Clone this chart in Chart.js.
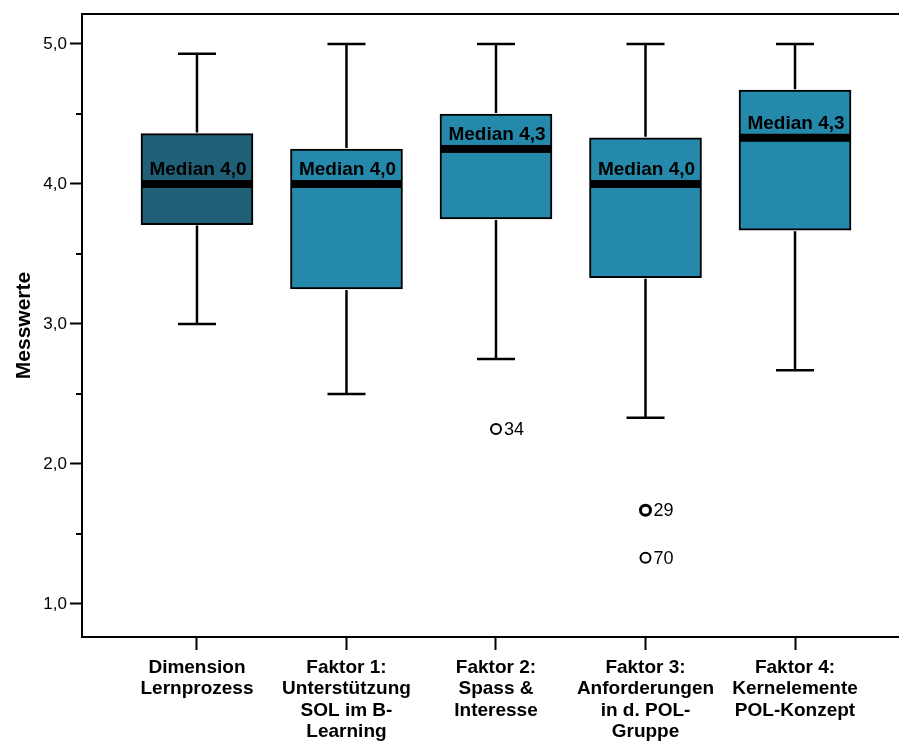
<!DOCTYPE html>
<html>
<head>
<meta charset="utf-8">
<script src="https://cdn.jsdelivr.net/npm/chart.js@4"></script>
<style>
  html, body { margin: 0; padding: 0; background: #fff; }
  #wrap { width: 899px; height: 746px; }
</style>
</head>
<body>
<div id="wrap"><canvas id="boxChart" width="899" height="746"></canvas></div>
<script>
// data
const categories = [
  ['Dimension', 'Lernprozess'],
  ['Faktor 1:', 'Unterstützung', 'SOL im B-', 'Learning'],
  ['Faktor 2:', 'Spass &', 'Interesse'],
  ['Faktor 3:', 'Anforderungen', 'in d. POL-', 'Gruppe'],
  ['Faktor 4:', 'Kernelemente', 'POL-Konzept']
];
const whiskerLow  = [3.0, 2.5, 2.75, 2.33, 2.67];
const q1          = [3.71, 3.25, 3.75, 3.33, 3.67];
const median      = [4.0, 4.0, 4.25, 4.0, 4.33];
const q3          = [4.36, 4.25, 4.5, 4.33, 4.67];
const whiskerHigh = [4.93, 5.0, 5.0, 5.0, 5.0];
const medianLabels = ['Median 4,0', 'Median 4,0', 'Median 4,3', 'Median 4,0', 'Median 4,3'];

const outlierCat = [3, 4, 4];
const outlierVal = [2.25, 1.67, 1.33];
const outlierIds = ['34', '29', '70'];

const xTicks = [1, 2, 3, 4, 5];
const yTicks = [1, 2, 3, 4, 5];
const yMinorTicks = [1.5, 2.5, 3.5, 4.5];

const FONT = "'Liberation Sans', Arial, sans-serif";
const boxColors = ['#1f6076', '#2489ab', '#2489ab', '#2489ab', '#2489ab'];

const boxData = categories.map((c, i) => ({ x: i + 1, y: [q1[i], q3[i]] }));
const outlierData = outlierCat.map((c, i) => ({ x: c, y: outlierVal[i] }));

// whiskers, medians, labels, frame
const boxExtras = {
  id: 'boxExtras',
  afterDatasetsDraw(chart) {
    const ctx = chart.ctx;
    const xs = chart.scales.x, ys = chart.scales.y;
    const area = chart.chartArea;
    ctx.save();
    ctx.strokeStyle = '#000';
    ctx.lineCap = 'butt';

    // top frame line
    ctx.lineWidth = 2;
    ctx.beginPath();
    ctx.moveTo(area.left - 1, area.top);
    ctx.lineTo(chart.width, area.top);
    ctx.stroke();

    // minor y ticks
    yMinorTicks.forEach(v => {
      const py = Math.round(ys.getPixelForValue(v));
      ctx.beginPath();
      ctx.moveTo(area.left - 6, py);
      ctx.lineTo(area.left, py);
      ctx.stroke();
    });

    const half = 56;
    categories.forEach((c, i) => {
      const px = xs.getPixelForValue(i + 1);
      const pLo = ys.getPixelForValue(whiskerLow[i]);
      const pHi = ys.getPixelForValue(whiskerHigh[i]);
      const pQ1 = ys.getPixelForValue(q1[i]);
      const pQ3 = ys.getPixelForValue(q3[i]);
      const pMed = ys.getPixelForValue(median[i]);

      ctx.lineWidth = 2.5;
      ctx.beginPath();
      ctx.moveTo(px, pQ3 - 1); ctx.lineTo(px, pHi);
      ctx.moveTo(px, pQ1 + 1); ctx.lineTo(px, pLo);
      ctx.moveTo(px - 19, pHi); ctx.lineTo(px + 19, pHi);
      ctx.moveTo(px - 19, pLo); ctx.lineTo(px + 19, pLo);
      ctx.stroke();

      ctx.fillStyle = '#000';
      ctx.font = 'bold 19px ' + FONT;
      ctx.textAlign = 'center';
      ctx.textBaseline = 'alphabetic';
      ctx.fillText(medianLabels[i], px + 1, pMed - 9);

      ctx.fillRect(px - half + 1, pMed - 4, 2 * half - 2, 8);
    });

    // outlier ids
    ctx.font = '18px ' + FONT;
    ctx.textAlign = 'left';
    ctx.textBaseline = 'middle';
    outlierIds.forEach((id, i) => {
      const px = xs.getPixelForValue(outlierCat[i]);
      const py = ys.getPixelForValue(outlierVal[i]);
      ctx.fillText(id, px + 8, py + 1);
    });

    // bottom axis line carried on to the canvas edge
    const by = xs.top;
    ctx.lineWidth = 2;
    ctx.beginPath();
    ctx.moveTo(area.right - 2, by);
    ctx.lineTo(chart.width, by);
    ctx.stroke();
    ctx.restore();
  }
};

const ctx = document.getElementById('boxChart').getContext('2d');
new Chart(ctx, {
  type: 'bar',
  data: {
    datasets: [
      {
        type: 'scatter',
        data: outlierData,
        pointStyle: 'circle',
        pointRadius: 5,
        pointBorderWidth: [2, 3, 2],
        pointBackgroundColor: '#fff',
        pointBorderColor: '#000',
        showLine: false,
        order: 0
      },
      {
        type: 'bar',
        data: boxData,
        backgroundColor: boxColors,
        borderColor: '#000',
        borderWidth: 2,
        borderSkipped: false,
        barThickness: 112,
        order: 1
      }
    ]
  },
  options: {
    responsive: false,
    animation: false,
    layout: { padding: { top: 14, left: 0, right: 0, bottom: 0 } },
    plugins: { legend: { display: false }, tooltip: { enabled: false } },
    scales: {
      x: {
        type: 'linear',
        offset: false,
        min: 0.231,
        max: 5.642,
        afterBuildTicks: s => { s.ticks = xTicks.map(v => ({ value: v })); },
        afterFit: s => { s.height = 109; s.paddingLeft = 0; s.paddingRight = 0; },
        ticks: {
          color: '#000',
          font: { family: FONT, size: 19, weight: 'bold', lineHeight: 1.13 },
          padding: 7,
          maxRotation: 0,
          minRotation: 0,
          autoSkip: false,
          callback: (v) => categories[v - 1] || ''
        },
        grid: { offset: false, drawOnChartArea: false, tickLength: 13, tickColor: '#000', tickWidth: 2 },
        border: { display: true, color: '#000', width: 2 }
      },
      y: {
        min: 0.764,
        max: 5.214,
        afterBuildTicks: s => { s.ticks = yTicks.map(v => ({ value: v })); },
        afterFit: s => { s.width = 82; },
        ticks: {
          color: '#000',
          font: { family: FONT, size: 17 },
          padding: 3,
          callback: v => v.toFixed(1).replace('.', ',')
        },
        grid: { drawOnChartArea: false, tickLength: 12, tickColor: '#000', tickWidth: 2 },
        border: { display: true, color: '#000', width: 2 },
        title: {
          display: true,
          text: 'Messwerte',
          color: '#000',
          font: { family: FONT, size: 21, weight: 'bold' },
          padding: { top: 12, bottom: 0 }
        }
      }
    }
  },
  plugins: [boxExtras]
});
</script>
</body>
</html>
